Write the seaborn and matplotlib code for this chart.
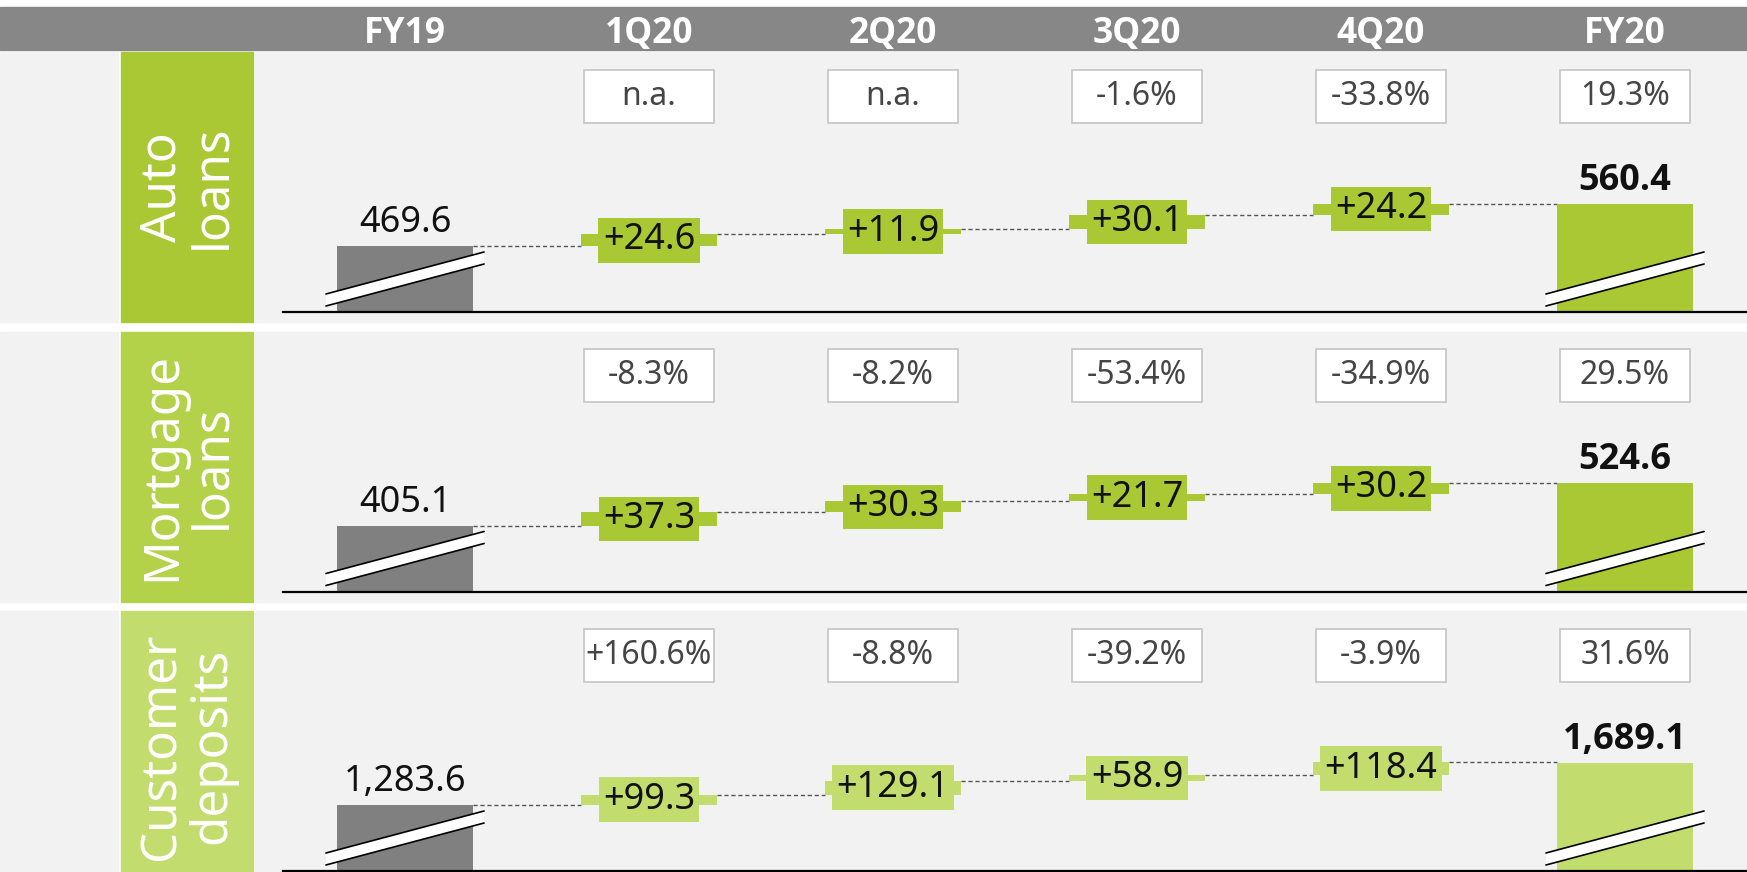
import matplotlib
matplotlib.use("Agg")
import matplotlib.pyplot as plt
from matplotlib.patches import Rectangle, Polygon
from matplotlib.transforms import blended_transform_factory
import numpy as np
import pandas as pd
import seaborn as sns

periods = ["FY19", "1Q20", "2Q20", "3Q20", "4Q20", "FY20"]
segments = ["Auto\nloans", "Mortgage\nloans", "Customer\ndeposits"]

start_values = [469.6, 405.1, 1283.6]
end_values = [560.4, 524.6, 1689.1]
auto_deltas = [24.6, 11.9, 30.1, 24.2]
mortgage_deltas = [37.3, 30.3, 21.7, 30.2]
deposit_deltas = [99.3, 129.1, 58.9, 118.4]

auto_growth = ["n.a.", "n.a.", "-1.6%", "-33.8%", "19.3%"]
mortgage_growth = ["-8.3%", "-8.2%", "-53.4%", "-34.9%", "29.5%"]
deposit_growth = ["+160.6%", "-8.8%", "-39.2%", "-3.9%", "31.6%"]

# colours
HEADER = "#878787"
PANEL = "#f2f2f2"
GREY_BAR = "#808080"
label_colors = ["#a9c833", "#b3d24a", "#c3dc6e"]
bar_colors = ["#a9c833", "#a9c833", "#c3dc6e"]
BOLD_FONT = ["Open Sans", "Liberation Sans", "DejaVu Sans"]

W, H = 1747, 872
BAR_W = 0.557


def fx(px):
    return px / W


def fy(py):
    return 1 - py / H


sns.set_theme(style="white")
plt.rcParams["font.family"] = ["Noto Sans", "DejaVu Sans"]

fig = plt.figure(figsize=(W / 100, H / 100), dpi=100)
fig.patch.set_facecolor("white")

# header band
fig.add_artist(Rectangle((0, fy(50)), 1, 43 / H, color=HEADER, transform=fig.transFigure, zorder=0))

deltas_all = [auto_deltas, mortgage_deltas, deposit_deltas]
growth_all = [auto_growth, mortgage_growth, deposit_growth]

axes = []
for i in range(3):
    top = 52 + 279.5 * i
    base = top + 260
    bottom = top + 270

    # panel background and side label
    fig.add_artist(Rectangle((0, fy(bottom)), fx(118), 270 / H, color=PANEL, transform=fig.transFigure, zorder=0))
    fig.add_artist(Rectangle((fx(121), fy(bottom)), fx(132), 270 / H, color=label_colors[i],
                             transform=fig.transFigure, zorder=0))
    fig.add_artist(Rectangle((fx(255), fy(bottom)), fx(W - 255), 270 / H, color=PANEL,
                             transform=fig.transFigure, zorder=0))
    fig.text(fx(187), fy(top + 135), segments[i], rotation=90, ha="center", va="center",
             multialignment="center", color="white", fontsize=35.5, linespacing=1.0)

    ax = fig.add_axes([fx(283), fy(base), fx(W - 283), 260 / H])
    ax.patch.set_visible(False)
    axes.append(ax)

    start, end = start_values[i], end_values[i]
    deltas = deltas_all[i]
    levels = start + np.concatenate([[0], np.cumsum(deltas)])

    # broken axis: fixed pixel height for the start bar and the total rise
    scale = 42.5 / (end - start)
    lo = start - 66 / scale
    ax.set_ylim(lo, lo + 260 / scale)

    totals = pd.DataFrame({"period": ["FY19", "FY20"], "value": [start, end]})
    sns.barplot(data=totals, x="period", y="value", order=periods, hue="period",
                palette={"FY19": GREY_BAR, "FY20": bar_colors[i]}, width=BAR_W,
                saturation=1, linewidth=0, legend=False, ax=ax, zorder=2)
    ax.set_xlim(-0.5, 5.5)

    xs = np.arange(1, 5)
    ax.bar(xs, deltas, bottom=levels[:-1], width=BAR_W, color=bar_colors[i], linewidth=0, zorder=3)

    for k in range(5):
        ax.plot([k + BAR_W / 2, k + 1 - BAR_W / 2], [levels[k], levels[k]], color="#555555",
                lw=1, ls=(0, (3, 2)), zorder=1)

    for k, d in enumerate(deltas):
        ax.text(k + 1, levels[k] + d / 2, f"+{d:.1f}", ha="center", va="center", fontsize=26,
                color="#111111", zorder=5,
                bbox=dict(boxstyle="square,pad=0.12", fc=bar_colors[i], ec="none"))

    ax.annotate(f"{start:,.1f}", xy=(0, start), xytext=(0, 10), textcoords="offset points",
                ha="center", va="baseline", fontsize=26, color="#111111")
    ax.annotate(f"{end:,.1f}", xy=(5, end), xytext=(0, 10), textcoords="offset points",
                ha="center", va="baseline", fontsize=26, fontweight="bold", family=BOLD_FONT,
                color="#111111")

    trans = blended_transform_factory(ax.transData, ax.transAxes)

    # growth boxes
    for k, g in enumerate(growth_all[i]):
        ax.add_patch(Rectangle((k + 1 - 0.2665, 0.728), 0.533, 0.204, transform=trans,
                               fc="white", ec="#c8c8c8", lw=1.3, clip_on=False, zorder=4))
        ax.text(k + 1, 0.83, g, transform=trans, ha="center", va="center", fontsize=23,
                color="#454545", zorder=5)

    # axis break marks on the total bars
    c, r, t, hw = 33 / 260, 21 / 260, 6 / 260, 0.324
    for x in (0, 5):
        band = Polygon([(x - hw, c - r - t), (x + hw, c + r - t), (x + hw, c + r + t), (x - hw, c - r + t)],
                       closed=True, transform=trans, fc="white", ec="none", zorder=4, clip_on=False)
        ax.add_patch(band)
        for s in (-t, t):
            ax.plot([x - hw, x + hw], [c - r + s, c + r + s], transform=trans, color="black",
                    lw=1.2, zorder=5, clip_on=False)

    ax.set_xlabel("")
    ax.set_ylabel("")
    ax.set_xticks([])
    ax.set_yticks([])
    for side in ("left", "right", "top"):
        ax.spines[side].set_visible(False)
    ax.spines["bottom"].set_color("black")
    ax.spines["bottom"].set_linewidth(1.6)

# header labels aligned with the columns
htrans = blended_transform_factory(axes[0].transData, fig.transFigure)
for k, p in enumerate(periods):
    axes[0].text(k, fy(43), p, transform=htrans, ha="center", va="baseline", fontsize=25.5,
                 fontweight="bold", family=BOLD_FONT, color="white", clip_on=False)

fig.savefig("out.png", dpi=100)
